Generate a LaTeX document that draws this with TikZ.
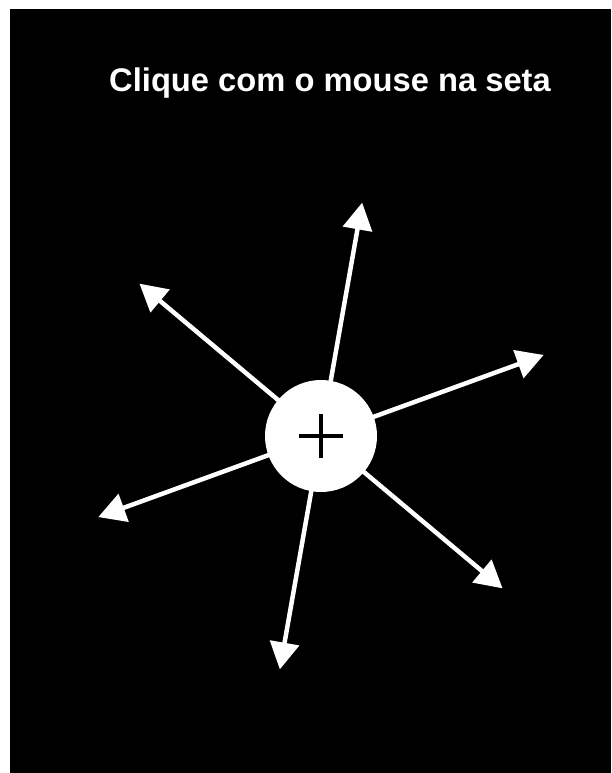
\documentclass[tikz,border=0pt]{standalone}
\usepackage{fontspec}
\setmainfont{Liberation Sans}
\usetikzlibrary{arrows.meta,calc}

\begin{document}
\begin{tikzpicture}[
  x=1pt, y=-1pt,
  hub/.style={circle, fill=white, minimum size=112pt, inner sep=0pt},
  ray/.style={-{Triangle[length=27pt, width=29pt]}, line width=4.5pt, white},
  cross/.style={line width=3.5pt, black},
  title/.style={font=\fontsize{32.7}{38}\selectfont\bfseries, text=white, anchor=base}
]
\useasboundingbox (0,0) rectangle (611,773);
\fill[black] (10,9) rectangle (611,773);

%% ===== title =====
\node[title] (head) at (330,92) {Clique com o mouse na seta};

%% ===== arrow tips, every 60 degrees =====
\coordinate (c) at (321,436);
\foreach \a [count=\i] in {20,80,140,200,260,320}
  \coordinate (tip\i) at ($(c)+(\a:237pt)$);

\foreach \i in {1,...,6}
  \draw[ray] (c) -- (tip\i);

%% ===== centre button =====
\node[hub] (btn) at (c) {};
\draw[cross] ([xshift=-22pt]btn.center) -- ([xshift=22pt]btn.center);
\draw[cross] ([yshift=-22pt]btn.center) -- ([yshift=22pt]btn.center);

\end{tikzpicture}
\end{document}
